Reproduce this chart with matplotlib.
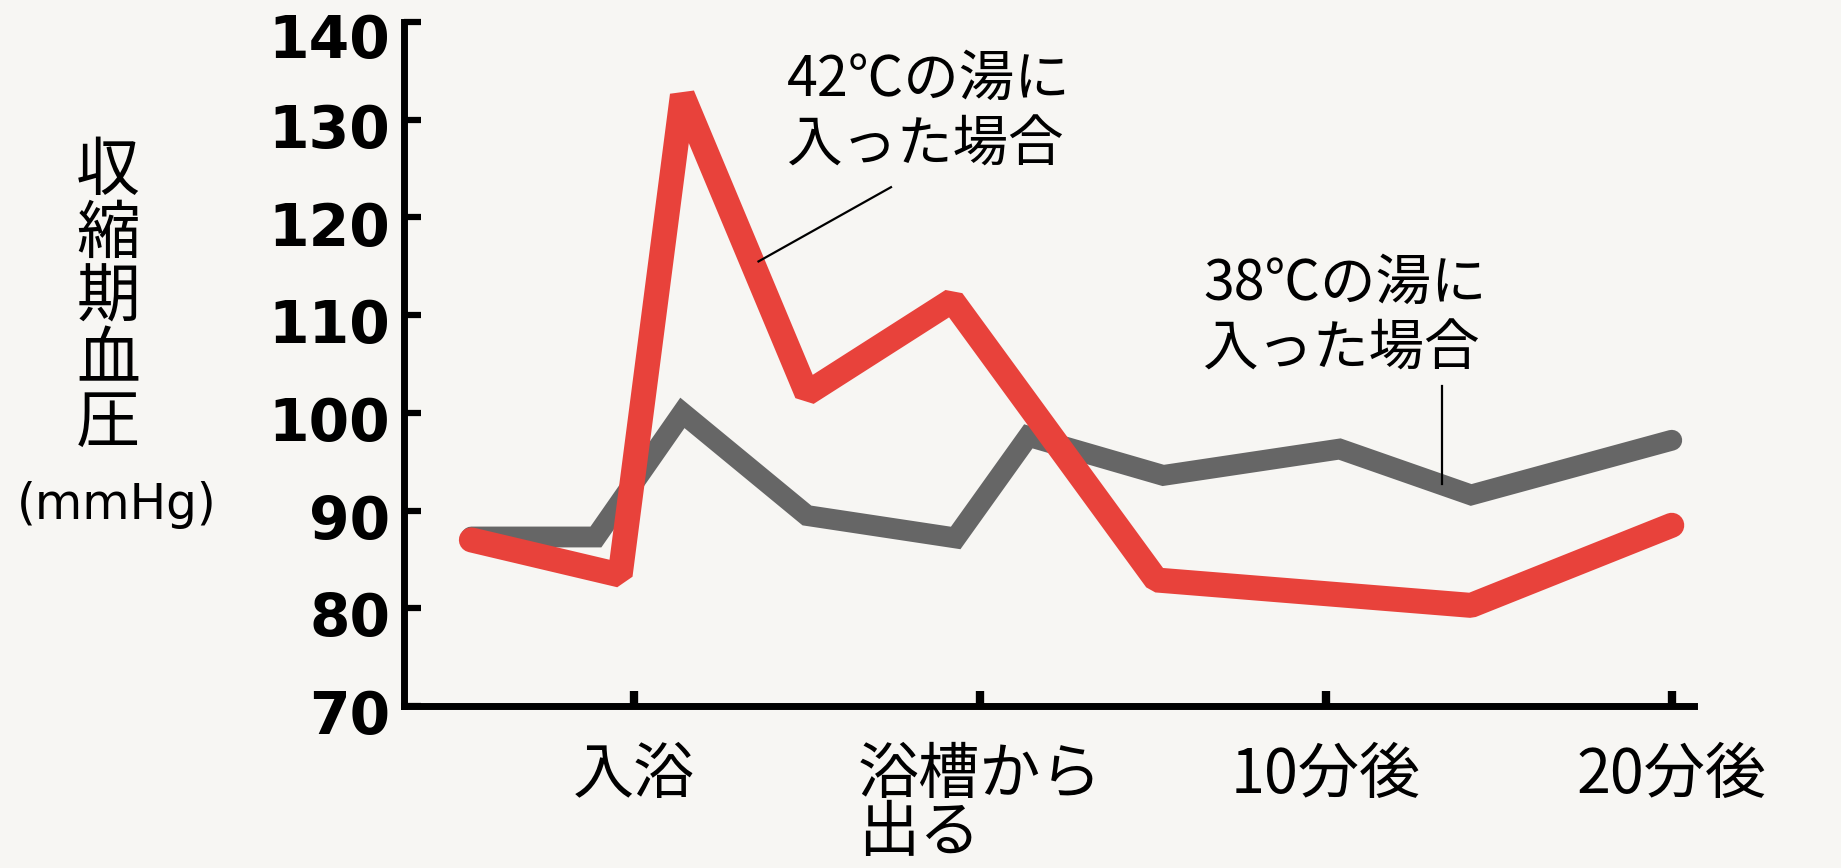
import matplotlib
matplotlib.use("Agg")
import matplotlib.pyplot as plt
from matplotlib.transforms import ScaledTranslation

plt.rcParams['font.family'] = ['Noto Sans CJK JP', 'DejaVu Sans']

# 時間軸: 入浴 = 0, 目盛り1つ分 = 1
time_ticks = [0, 1, 2, 3]
time_labels = ['入浴', '浴槽から\n出る', '10分後', '20分後']
y_ticks = [70, 80, 90, 100, 110, 120, 130, 140]

# 42℃の湯に入った場合
x_42 = [-0.47, -0.04, 0.14, 0.50, 0.92, 1.51, 2.42, 3.0]
bp_42 = [87.0, 83.4, 132.5, 102.0, 111.5, 82.9, 80.3, 88.5]

# 38℃の湯に入った場合
x_38 = [-0.47, -0.11, 0.14, 0.50, 0.93, 1.14, 1.53, 2.04, 2.42, 3.0]
bp_38 = [87.3, 87.3, 100.0, 89.5, 87.2, 97.6, 93.6, 96.3, 91.6, 97.2]

fig = plt.figure(figsize=(18.41, 8.68), dpi=100, facecolor='#f7f6f3')
ax = fig.add_axes([0.2194, 0.1866, 0.7007, 0.788])
ax.set_facecolor('none')

ax.plot(x_38, bp_38, color='#666666', lw=15,
        solid_joinstyle='miter', solid_capstyle='round', zorder=2)
ax.plot(x_42, bp_42, color='#e8423b', lw=18,
        solid_joinstyle='bevel', solid_capstyle='round', zorder=3)

ax.set_xlim(-0.665, 3.064)
ax.set_ylim(70, 140)

for s in ['top', 'right']:
    ax.spines[s].set_visible(False)
for s in ['left', 'bottom']:
    ax.spines[s].set_linewidth(5)
    ax.spines[s].set_capstyle('projecting')

ax.set_yticks(y_ticks)
ax.set_yticklabels([str(v) for v in y_ticks], family='DejaVu Sans',
                   fontweight='bold', fontsize=42)
ax.tick_params(axis='y', direction='in', length=12, width=4.5, pad=10)
# 数字は目盛りより少し下に置く（最上段はさらに下げる）
for lab in ax.get_yticklabels():
    dy = -10 if lab.get_text() == '140' else -4
    lab.set_transform(lab.get_transform()
                      + ScaledTranslation(0, dy / 72, fig.dpi_scale_trans))

ax.set_xticks(time_ticks)
ax.set_xticklabels(time_labels, fontsize=44, multialignment='left',
                   linespacing=0.9)
ax.tick_params(axis='x', direction='in', length=11, width=6, pad=28)

# 引き出し線と注記
ax.plot([0.36, 0.743], [115.5, 123.1], color='black', lw=1.6, zorder=4)
ax.text(0.442, 130.7, '42℃の湯に\n入った場合', fontsize=40,
        ha='left', va='center', linespacing=1.2)

ax.plot([2.335, 2.335], [92.7, 102.8], color='black', lw=1.6, zorder=4)
ax.text(1.645, 109.8, '38℃の湯に\n入った場合', fontsize=40,
        ha='left', va='center', linespacing=1.2)

# 縦書きの軸ラベル
fig.text(0.0587, 0.6567, '収\n縮\n期\n血\n圧', fontsize=46,
         ha='center', va='center', linespacing=0.93)
fig.text(0.0635, 0.418, '(mmHg)', family='DejaVu Sans', fontsize=35,
         ha='center', va='center')

fig.savefig('out.png', dpi=100, facecolor=fig.get_facecolor())
